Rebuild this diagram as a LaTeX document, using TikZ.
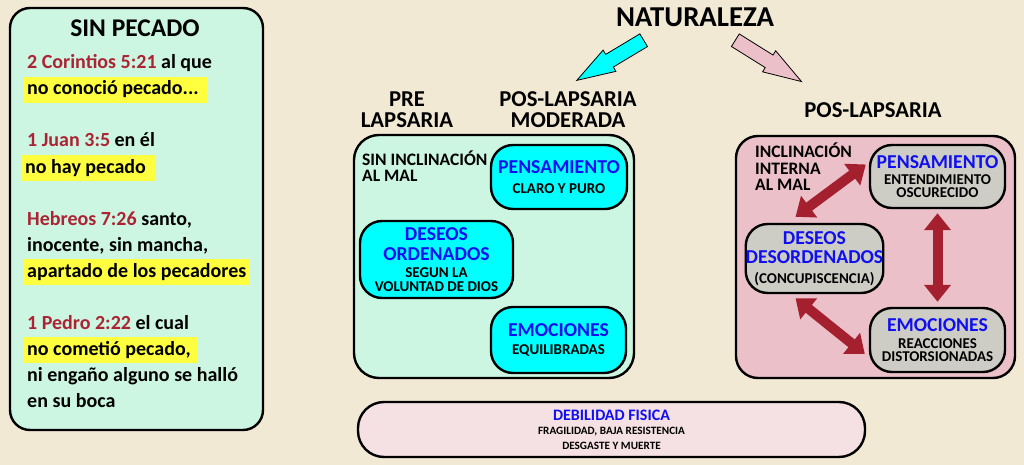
\documentclass[tikz,border=0pt]{standalone}
\usepackage{fontspec}
\setmainfont{Carlito}
\usetikzlibrary{shapes.arrows, arrows.meta}

\definecolor{bgcream}{RGB}{242,233,213}
\definecolor{mint}{RGB}{204,246,226}
\definecolor{aqua}{RGB}{0,255,255}
\definecolor{boxpink}{RGB}{235,192,201}
\definecolor{palepink}{RGB}{245,224,227}
\definecolor{boxgray}{RGB}{206,205,197}
\definecolor{versered}{RGB}{172,36,52}
\definecolor{linkred}{RGB}{165,32,46}
\definecolor{textblue}{RGB}{15,15,240}
\definecolor{hlyellow}{RGB}{255,255,64}

\newcommand{\cita}[1]{\textcolor{versered}{#1}}
\newcommand{\tema}[1]{{\color{textblue}\fontsize{19.7}{20}\selectfont #1}}

\tikzstyle{panel} = [
    draw=black,
    line width=2.4pt,
    inner sep=0pt
]
\tikzstyle{mint_panel} = [
    panel,
    fill=mint,
    rounded corners=20pt
]
\tikzstyle{pink_panel} = [
    panel,
    fill=boxpink,
    rounded corners=20pt
]
\tikzstyle{cyan_node} = [
    panel,
    fill=aqua,
    rounded corners=22pt,
    align=center,
    font=\bfseries\fontsize{15}{14}\selectfont
]
\tikzstyle{gray_node} = [
    panel,
    fill=boxgray,
    rounded corners=22pt,
    align=center,
    font=\bfseries\fontsize{15}{13}\selectfont
]
\tikzstyle{heading} = [
    align=center,
    inner sep=0pt,
    font=\bfseries\fontsize{22.7}{21}\selectfont
]
\tikzstyle{side_label} = [
    align=left,
    anchor=west,
    inner sep=0pt,
    font=\bfseries\fontsize{17.5}{16.5}\selectfont
]
\tikzstyle{verse_line} = [
    anchor=base west,
    inner sep=0pt,
    font=\bfseries\fontsize{20}{26}\selectfont
]
\tikzstyle{marked_line} = [
    verse_line,
    fill=hlyellow,
    inner xsep=4pt, % yellow band sticks out on the left
    text height=18pt,
    text depth=8pt
]
\tikzstyle{fat_arrow} = [
    single arrow,
    draw=black,
    line width=0.8pt,
    inner sep=7pt,
    minimum height=78pt,
    single arrow head extend=5pt,
    single arrow tip angle=36,
    anchor=tail
]
\tikzstyle{red_link} = [
    draw=linkred,
    line width=10pt,
    >={Triangle[length=17pt, width=26pt]},
    <->
]

\begin{document}
\begin{tikzpicture}[x=1pt, y=-1pt]
\fill[bgcream] (0,0) rectangle (1024,465);
\useasboundingbox (0,0) rectangle (1024,465);

% left column
\node [mint_panel, minimum width=253pt, minimum height=422pt] (sin_box) at (136.5,219) {};
\node [inner sep=0pt, font=\bfseries\fontsize{25.5}{25}\selectfont] (sin_title) at (135,28) {SIN PECADO};
\node [verse_line] (cor_a) at (27,69) {\cita{2 Corintios 5:21} al que};
\node [marked_line] (cor_b) at (23,95) {no conoció pecado...\kern5pt};
\node [verse_line] (juan_a) at (27,147) {\cita{1 Juan 3:5} en él};
\node [marked_line] (juan_b) at (21,173) {no hay pecado\kern5pt};
\node [verse_line] (heb_a) at (27,225) {\cita{Hebreos 7:26} santo,};
\node [verse_line] (heb_b) at (27,251) {inocente, sin mancha,};
\node [marked_line] (heb_c) at (23,277) {apartado de los pecadores};
\node [verse_line] (ped_a) at (27,329) {\cita{1 Pedro 2:22} el cual};
\node [marked_line] (ped_b) at (23,355) {no cometió pecado,\kern3pt};
\node [verse_line] (ped_c) at (27,381) {ni engaño alguno se halló};
\node [verse_line] (ped_d) at (27,407) {en su boca};

% top
\node [heading, font=\bfseries\fontsize{28.8}{28}\selectfont] (nat) at (695,17) {NATURALEZA};
\node [fat_arrow, fill=aqua, rotate=211] (nat_left) at (644,40) {};
\node [fat_arrow, fill=boxpink, rotate=-32] (nat_right) at (735,40) {};
\node [heading] (pre) at (407,110) {PRE\\LAPSARIA};
\node [heading] (pos_mod) at (568,110) {POS-LAPSARIA\\MODERADA};
\node [heading] (pos) at (873,110) {POS-LAPSARIA};

% sin inclinacion
\node [mint_panel, rounded corners=25pt, minimum width=280pt, minimum height=243pt] (mod_box) at (494,256.5) {};
\node [side_label] (sin_incl) at (362,166) {SIN INCLINACIÓN\\AL MAL};
\node [cyan_node, minimum width=136pt, minimum height=64pt] (pen_a) at (559,177) {\tema{PENSAMIENTO}\\[5.5pt]CLARO Y PURO};
\node [cyan_node, minimum width=153pt, minimum height=77pt] (des_a) at (436.5,259.5) {\tema{DESEOS}\\[6pt]\tema{ORDENADOS}\\[2.5pt]SEGUN LA\\VOLUNTAD DE DIOS};
\node [cyan_node, minimum width=135pt, minimum height=66pt] (emo_a) at (558.5,340) {\tema{EMOCIONES}\\[3.5pt]EQUILIBRADAS};

% inclinacion al mal
\node [pink_panel, rounded corners=22pt, minimum width=279pt, minimum height=242pt] (pos_box) at (875.5,257) {};
\node [side_label] (inc) at (755,167) {INCLINACIÓN\\INTERNA\\AL MAL};
\node [gray_node, minimum width=135pt, minimum height=63pt] (pen_b) at (937.5,176.5) {\tema{PENSAMIENTO}\\[2.5pt]ENTENDIMIENTO\\OSCURECIDO};
\node [gray_node, minimum width=137pt, minimum height=69pt] (des_b) at (814.5,258.5) {\tema{DESEOS}\\[5pt]\tema{DESORDENADOS}\\[7.5pt](CONCUPISCENCIA)};
\node [gray_node, minimum width=135pt, minimum height=64pt] (emo_b) at (937.5,340) {\tema{EMOCIONES}\\[4.5pt]REACCIONES\\DISTORSIONADAS};
\draw [red_link] ([xshift=-19pt, yshift=6pt]des_b.north) -- ([xshift=-3pt, yshift=12pt]pen_b.west);
\draw [red_link] ([yshift=-4pt]pen_b.south) -- ([yshift=5pt]emo_b.north);
\draw [red_link] ([xshift=-19pt, yshift=-4pt]des_b.south) -- ([xshift=-4pt, yshift=-14pt]emo_b.west);

% bottom
\node [panel, fill=palepink, rounded corners=26pt, minimum width=507pt, minimum height=55pt, align=center, font=\bfseries\fontsize{11.2}{14}\selectfont] (deb) at (611.5,429.5) {{\color{textblue}\fontsize{16}{17}\selectfont DEBILIDAD FISICA}\\FRAGILIDAD, BAJA RESISTENCIA\\[1pt]DESGASTE Y MUERTE};
\end{tikzpicture}
\end{document}
